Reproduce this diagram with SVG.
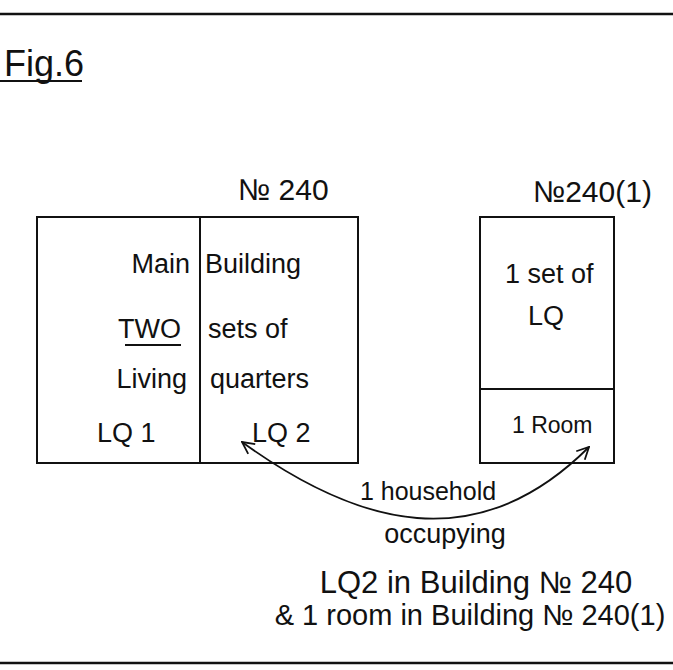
<svg xmlns="http://www.w3.org/2000/svg" width="673" height="670" viewBox="0 0 673 670">
  <style>
    text { font-family: "Liberation Sans", "DejaVu Sans", sans-serif; fill: #111; }
    .t { font-size: 27px; }
    .big { font-size: 30px; }
    .box { fill: none; stroke: #111; stroke-width: 2; }
    .rule { stroke: #111; stroke-width: 2.5; }
    .line { stroke: #111; stroke-width: 2; fill: none; }
    .conn { fill: none; stroke: #111; stroke-width: 1.8; }
  </style>
  <defs>
    <marker id="arrow" viewBox="0 0 14 14" refX="13" refY="7" markerWidth="14" markerHeight="14" markerUnits="userSpaceOnUse" orient="auto-start-reverse">
      <path d="M1,1 L13,7 L1,13" fill="none" stroke="#111" stroke-width="1.8"/>
    </marker>
  </defs>
  <rect width="673" height="670" fill="#fff"/>

  <line class="rule" x1="0" y1="14" x2="673" y2="14"/>
  <line class="rule" x1="0" y1="663" x2="673" y2="663"/>

  <g id="title">
    <text x="4" y="76" style="font-size:36px">Fig.6</text>
    <line class="line" x1="0" y1="81" x2="82" y2="81"/>
  </g>

  <g id="building-240">
    <text class="big" x="238" y="200">№ 240</text>
    <rect class="box" x="37" y="217" width="321" height="246"/>
    <line class="line" x1="200" y1="217" x2="200" y2="463"/>
    <text class="t" x="190" y="273" text-anchor="end">Main</text>
    <text class="t" x="205" y="273">Building</text>
    <text class="t" x="181" y="338" text-anchor="end">TWO</text>
    <line class="line" x1="125" y1="345" x2="181" y2="345"/>
    <text class="t" x="208" y="338">sets of</text>
    <text class="t" x="187" y="388" text-anchor="end">Living</text>
    <text class="t" x="210" y="388">quarters</text>
    <text class="t" x="97" y="442">LQ 1</text>
    <text class="t" x="252" y="442">LQ 2</text>
  </g>

  <g id="building-240-1">
    <text class="big" x="533" y="202">№240(1)</text>
    <rect class="box" x="480" y="217" width="134" height="246"/>
    <line class="line" x1="480" y1="389" x2="614" y2="389"/>
    <text class="t" x="505" y="283">1 set of</text>
    <text class="t" x="528" y="325">LQ</text>
    <text class="t" x="512" y="433" style="font-size:23px">1 Room</text>
  </g>

  <g id="connectors">
    <path class="conn" d="M242,442 C358,526 477,559 589,447" marker-start="url(#arrow)" marker-end="url(#arrow)"/>
  </g>

  <g id="annotation">
    <text x="428" y="500" text-anchor="middle" style="font-size:25px">1 household</text>
    <text x="445" y="543" text-anchor="middle" style="font-size:27px">occupying</text>
    <text x="476" y="593" text-anchor="middle" style="font-size:31px">LQ2 in Building № 240</text>
    <text x="470" y="625" text-anchor="middle" style="font-size:29px">&amp; 1 room in Building № 240(1)</text>
  </g>
</svg>
